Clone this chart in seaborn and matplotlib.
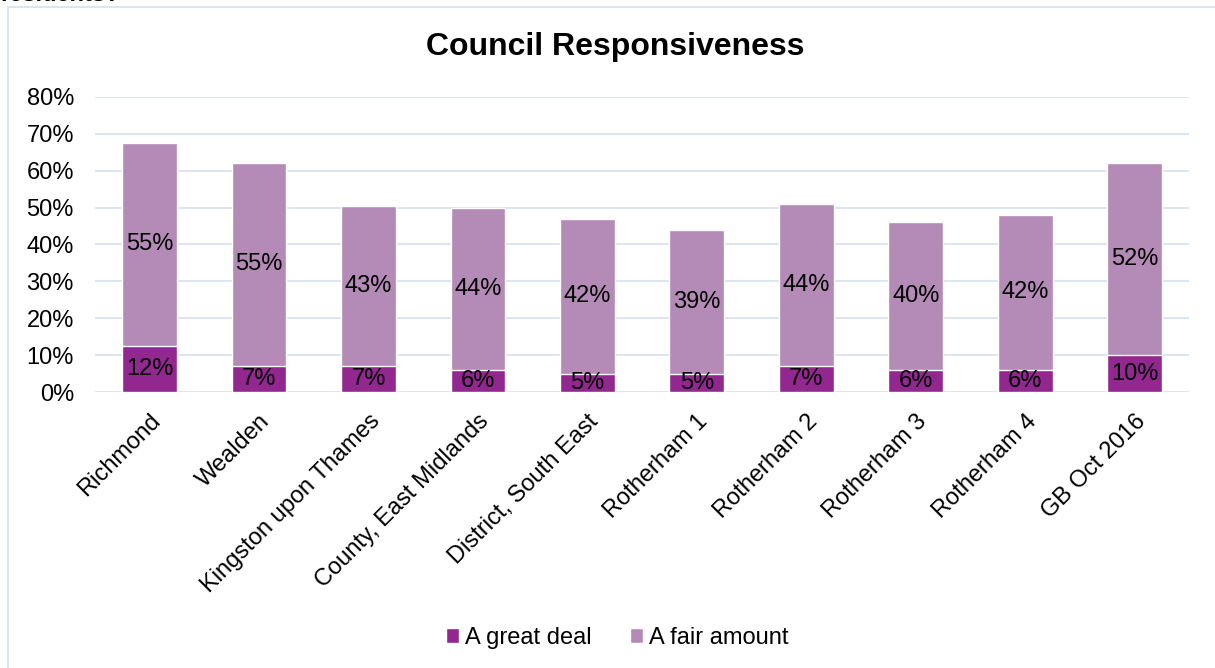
import matplotlib
matplotlib.use("Agg")
import matplotlib.pyplot as plt
import seaborn as sns
import pandas as pd
import numpy as np
from matplotlib.patches import Rectangle

categories = ["Richmond", "Wealden", "Kingston upon Thames", "County, East Midlands",
              "District, South East", "Rotherham 1", "Rotherham 2", "Rotherham 3",
              "Rotherham 4", "GB Oct 2016"]
great_deal = [12.4, 7.2, 7.1, 6.0, 5.0, 5.0, 7.0, 6.0, 6.0, 10.0]
fair_amount = [55.2, 55.0, 43.4, 44.0, 42.0, 39.0, 44.0, 40.0, 42.0, 52.0]
great_labels = ["12%", "7%", "7%", "6%", "5%", "5%", "7%", "6%", "6%", "10%"]
fair_labels = ["55%", "55%", "43%", "44%", "42%", "39%", "44%", "40%", "42%", "52%"]
y_ticks = [0, 10, 20, 30, 40, 50, 60, 70, 80]

dark = "#92278F"
light = "#B48AB6"
grid_c = "#D9E3F1"

sns.set_theme(style="white")
plt.rcParams["font.family"] = ["Liberation Sans", "DejaVu Sans"]
plt.rcParams["text.color"] = "black"

fig = plt.figure(figsize=(12.15, 6.68), dpi=100)
ax = fig.add_axes([0.078, 0.413, 0.901, 0.442])

df = pd.DataFrame({"cat": categories, "great": great_deal, "fair": fair_amount})
df["total"] = df["great"] + df["fair"]

sns.barplot(data=df, x="cat", y="total", color=light, width=0.5, ax=ax,
            saturation=1, label="A fair amount", zorder=3)
sns.barplot(data=df, x="cat", y="great", color=dark, width=0.5, ax=ax,
            saturation=1, label="A great deal", zorder=4)

fs = 17
for i in range(len(categories)):
    g = great_deal[i]
    f = fair_amount[i]
    ax.text(i, g / 2, great_labels[i], ha="center", va="center", fontsize=fs,
            color="black", zorder=5)
    ax.text(i, g + f / 2, fair_labels[i], ha="center", va="center", fontsize=fs,
            color="black", zorder=5)

ax.set_ylim(0, 80)
ax.set_xlim(-0.5, len(categories) - 0.5)
ax.set_yticks(y_ticks)
ax.set_yticklabels([f"{v}%" for v in y_ticks], fontsize=fs, color="black")
ax.tick_params(axis="y", length=0, pad=15)
ax.tick_params(axis="x", length=0, pad=13)
ax.set_xticks(range(len(categories)))
ax.set_xticklabels(categories, rotation=45, ha="right", rotation_mode="anchor",
                   fontsize=fs, color="black")
ax.set_xlabel("")
ax.set_ylabel("")
for s in ax.spines.values():
    s.set_visible(False)
ax.yaxis.grid(True, color=grid_c, linewidth=1.3, zorder=0)
ax.set_axisbelow(True)

fig.text(0.506, 1 - 47 / 668, "Council Responsiveness", fontsize=23,
         fontweight="bold", ha="center", va="center", color="black")

handles, labels = ax.get_legend_handles_labels()
order = [labels.index("A great deal"), labels.index("A fair amount")]
ax.legend([handles[k] for k in order], [labels[k] for k in order],
          loc="center", bbox_to_anchor=(0.508, 0.045), bbox_transform=fig.transFigure,
          ncol=2, frameon=False, fontsize=fs, handlelength=0.55, handleheight=0.55,
          handletextpad=0.25, columnspacing=1.6)

fig.patches.append(Rectangle((8 / 1215, -0.05), 1.0, 1 - 7 / 668 + 0.05,
                             transform=fig.transFigure, fill=False,
                             edgecolor=grid_c, linewidth=1.3))
fig.text(0.0, 1.008, "residents?", fontsize=17, fontweight="bold", ha="left",
         va="center", color="black")

fig.savefig("out.png", dpi=100)
